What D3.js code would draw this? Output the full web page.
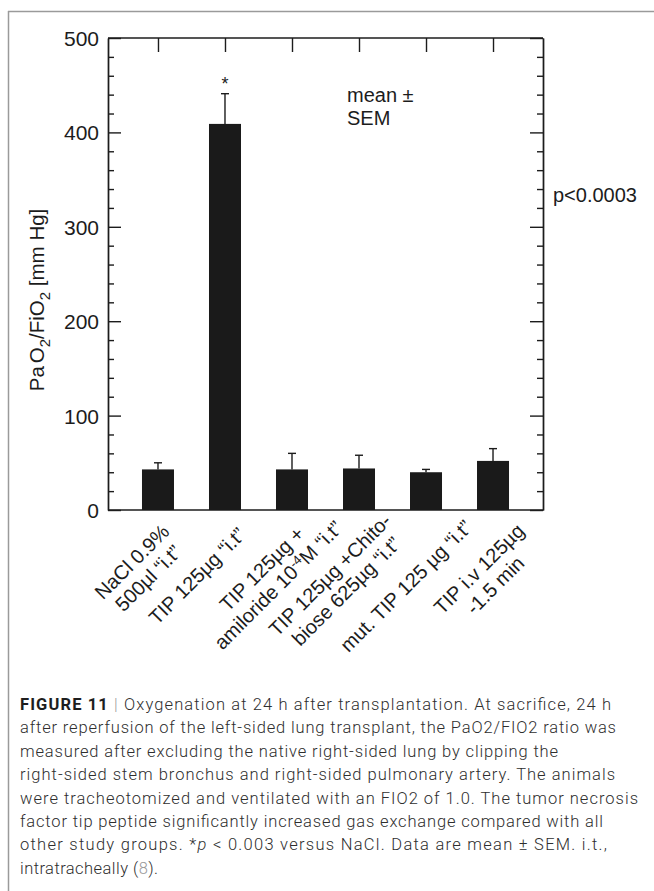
<!DOCTYPE html>
<html><head><meta charset="utf-8">
<script src="https://cdn.jsdelivr.net/npm/d3@7/dist/d3.min.js"></script>
<style>body{margin:0;background:#fff} svg{display:block}</style>
</head><body>
<svg id="c" width="654" height="891"></svg>
<script>
// ---- data ----
const categoryLines = [
  ["NaCl 0.9%", "500µl “i.t”"],
  ["TIP 125µg “i.t”"],
  ["TIP 125µg +", "amiloride 10^-4^M “i.t”"],
  ["TIP 125µg +Chito-", "biose 625µg “i.t”"],
  ["mut. TIP 125 µg “i.t”"],
  ["TIP i.v 125µg", "-1.5 min"]
];
const means = [43, 409, 43, 44, 40, 52];
const sems = [7, 32, 17, 14, 3, 13];
const yTicks = [0, 100, 200, 300, 400, 500];
const yMinorTicks = [20, 40, 60, 80, 120, 140, 160, 180, 220, 240, 260, 280, 320, 340, 360, 380, 420, 440, 460, 480];
const yLabelParts = [["Pa", 0], ["O", 0], ["2", 1], ["/FiO", 0], ["2", 1], [" [mm Hg]", 0]];
const noteLines = ["mean ±", "SEM"];
const pNote = "p<0.0003";
const starIndex = 1;
const captionLines = [
  [["FIGURE 11", "b"], [" | ", "g"], ["Oxygenation at 24 h after transplantation. At sacrifice, 24 h", ""]],
  [["after reperfusion of the left-sided lung transplant, the PaO2/FIO2 ratio was", ""]],
  [["measured after excluding the native right-sided lung by clipping the", ""]],
  [["right-sided stem bronchus and right-sided pulmonary artery. The animals", ""]],
  [["were tracheotomized and ventilated with an FIO2 of 1.0. The tumor necrosis", ""]],
  [["factor tip peptide significantly increased gas exchange compared with all", ""]],
  [["other study groups. *", ""], ["p", "i"], [" < 0.003 versus NaCl. Data are mean ± SEM. i.t.,", ""]],
  [["intratracheally (", ""], ["8", "g"], [").", ""]]
];

// ---- layout (not data) ----
const captionEnds = [611, 616, 558, 615, 638, 603, 607, 158];
// centre of each rotated label block, relative to (bar centre, x-axis)
const labelShift = [[-18, 60], [-28, 66], [-22, 67], [-21, 73], [-20, 76], [-6, 67]];

const svg = d3.select("#c");
const L = 108, R = 543, T = 38, B = 510;
const FONT = "'Liberation Sans', Arial, Helvetica, sans-serif";
const ink = "#1c1c1c";

// frame
svg.append("line").attr("x1", 8).attr("x2", 654).attr("y1", 11.5).attr("y2", 11.5).attr("stroke", "#9a9a9a").attr("stroke-width", 1.5);
svg.append("line").attr("x1", 8.5).attr("x2", 8.5).attr("y1", 11).attr("y2", 891).attr("stroke", "#9a9a9a").attr("stroke-width", 1.5);

const x = d3.scalePoint().domain(d3.range(means.length)).range([L, R]).padding(0.746);
const y = d3.scaleLinear().domain([0, 500]).range([B, T]);

function styleAxis(g) {
  g.selectAll("path,line").attr("stroke", ink).attr("stroke-width", 1.4);
  g.selectAll("text").attr("font-family", FONT).attr("fill", ink);
}

svg.append("g").attr("transform", `translate(${L},0)`)
  .call(d3.axisLeft(y).tickValues(yTicks).tickSizeInner(-13).tickSizeOuter(0).tickPadding(9).tickFormat(d3.format("d")))
  .call(g => g.selectAll("text").attr("font-size", 21).attr("dy", "0.36em"))
  .call(styleAxis);
svg.append("g").attr("transform", `translate(${L},0)`)
  .call(d3.axisLeft(y).tickValues(yMinorTicks).tickSizeInner(-6).tickSizeOuter(0).tickFormat(""))
  .call(styleAxis);
svg.append("g").attr("transform", `translate(${R},0)`)
  .call(d3.axisRight(y).tickValues(yTicks).tickSizeInner(-13).tickSizeOuter(0).tickFormat(""))
  .call(styleAxis);
svg.append("g").attr("transform", `translate(${R},0)`)
  .call(d3.axisRight(y).tickValues(yMinorTicks).tickSizeInner(-6).tickSizeOuter(0).tickFormat(""))
  .call(styleAxis);
svg.append("g").attr("transform", `translate(0,${T})`)
  .call(d3.axisTop(x).tickSizeInner(-14).tickSizeOuter(0).tickFormat(""))
  .call(g => g.select(".domain").attr("d", `M${L},0H${R}`))
  .call(styleAxis);
svg.append("g").attr("transform", `translate(0,${B})`)
  .call(d3.axisBottom(x).tickSize(0).tickFormat(""))
  .call(g => g.select(".domain").attr("d", `M${L},0H${R}`))
  .call(styleAxis);

// bars
const bw = 32;
svg.append("g").selectAll("rect").data(means).join("rect")
  .attr("x", (d, i) => x(i) - bw / 2).attr("width", bw)
  .attr("y", d => y(d)).attr("height", d => y(0) - y(d))
  .attr("fill", "#1a1a1a");

// error bars (upper whisker only)
const eg = svg.append("g").attr("stroke", ink).attr("stroke-width", 1.4);
means.forEach((m, i) => {
  eg.append("line").attr("x1", x(i)).attr("x2", x(i)).attr("y1", y(m)).attr("y2", y(m + sems[i]));
  eg.append("line").attr("x1", x(i) - 4).attr("x2", x(i) + 4).attr("y1", y(m + sems[i])).attr("y2", y(m + sems[i]));
});

// significance star
svg.append("text").attr("x", x(starIndex)).attr("y", y(means[starIndex] + sems[starIndex]) - 4)
  .attr("text-anchor", "middle").attr("font-family", FONT).attr("font-size", 18).attr("fill", ink).text("*");

// notes
const nt = svg.append("text").attr("font-family", FONT).attr("font-size", 20).attr("fill", ink);
noteLines.forEach((t, i) => nt.append("tspan").attr("x", 347).attr("y", 102 + i * 22.5).text(t));
svg.append("text").attr("x", 553).attr("y", 202).attr("font-family", FONT).attr("font-size", 20).attr("fill", ink).text(pNote);

// y label
const yl = svg.append("text").attr("transform", "translate(44,300) rotate(-90)")
  .attr("text-anchor", "middle").attr("font-family", FONT).attr("font-size", 20.5).attr("fill", ink);
let prevSub = 0;
yLabelParts.forEach(([t, sub], k) => {
  const ts = yl.append("tspan").text(t);
  if (sub) ts.attr("font-size", 15).attr("dy", 6);
  else if (prevSub) ts.attr("dy", -6);
  if (t === "O" && k === 1) ts.attr("dx", 3);
  prevSub = sub;
});

// x labels: rotated blocks, lines centred
const lh = 23, xfs = 20;
categoryLines.forEach((lines, i) => {
  const [dx, dy] = labelShift[i];
  const g = svg.append("g").attr("transform", `translate(${x(i) + dx},${B + dy}) rotate(-45)`);
  const t = g.append("text").attr("text-anchor", "middle").attr("font-family", FONT).attr("font-size", xfs).attr("fill", ink);
  lines.forEach((line, j) => {
    const base = (j - (lines.length - 1) / 2) * lh + 0.35 * xfs;
    const ln = t.append("tspan").attr("x", 0).attr("y", base);
    line.split("^").forEach((p, k) => {
      if (!p) return;
      const s = ln.append("tspan").text(p);
      if (k % 2 === 1) s.attr("font-size", 13).attr("baseline-shift", "super");
    });
  });
});

// caption
const CF = "Roboto, 'Liberation Sans', Arial, sans-serif";
captionLines.forEach((segs, i) => {
  const t = svg.append("text").attr("x", 20).attr("y", 710 + i * 23.4)
    .attr("font-family", CF).attr("font-weight", 300).attr("font-size", 16.5).attr("fill", "#2e2e2e");
  segs.forEach(([s, st]) => {
    const ts = t.append("tspan").text(s);
    if (st === "b") ts.attr("font-weight", 700).attr("fill", "#1e1e1e");
    if (st === "g") ts.attr("fill", "#9a9a9a");
    if (st === "i") ts.attr("font-style", "italic");
  });
  t.attr("textLength", captionEnds[i] - 20).attr("lengthAdjust", "spacing");
});
</script>
</body></html>
